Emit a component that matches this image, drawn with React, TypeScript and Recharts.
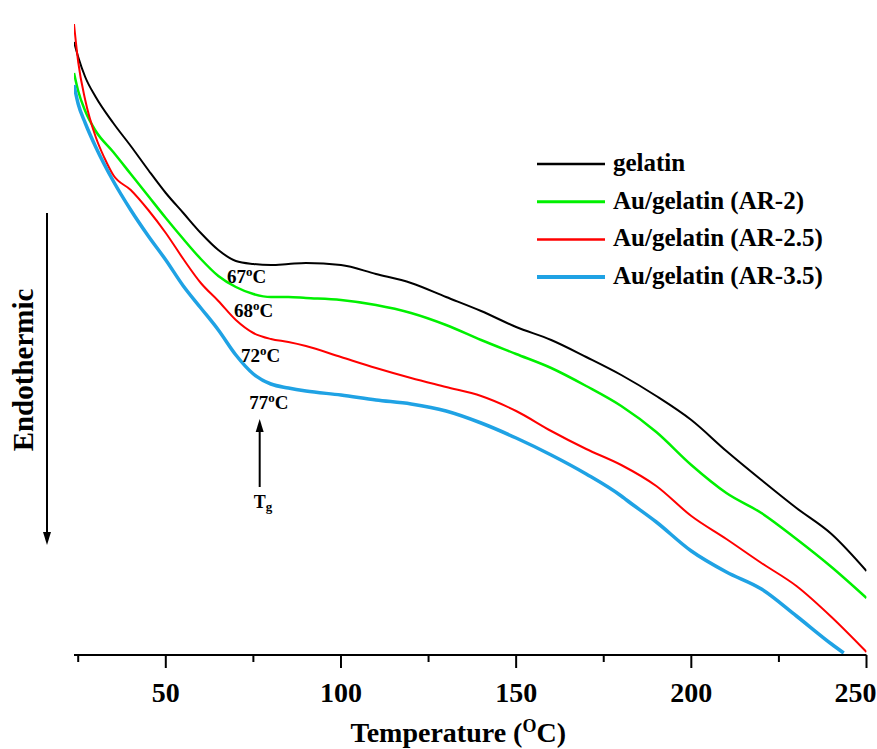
import { Line, LineChart, ReferenceDot, ReferenceLine, XAxis, YAxis } from "recharts";

const FONT = '"Liberation Serif", "Times New Roman", serif';

// temperature (°C) and heat flow (arbitrary units, endothermic down)
const temps = [
  23.8, 25, 27, 30, 35, 40, 45, 50, 55, 60, 65, 70, 75, 80, 85, 90, 100, 110, 120, 130, 140, 150,
  160, 170, 180, 190, 200, 210, 220, 230, 240, 250,
];
const gelatin = [
  613, 598, 578, 558, 532, 509, 485, 462, 442, 422, 405, 394, 391, 390, 391, 392, 390, 381, 372,
  358, 344, 328, 315, 298, 280, 259, 235, 204, 175, 147, 121, 84,
];
const arTwo = [
  582, 564, 544, 524, 503, 481, 459, 437, 416, 396, 379, 368, 361, 358, 358, 357, 355, 350, 342,
  330, 315, 301, 287, 269, 249, 223, 190, 162, 142, 116, 88, 57,
];
const redTemps = [
  23.8, 25, 27, 30, 32.5, 35, 40, 45, 50, 55, 60, 65, 70, 75, 80, 85, 90, 100, 110, 120, 130, 140,
  150, 160, 170, 180, 190, 200, 210, 220, 230, 240, 250,
];
const arTwoFive = [
  631, 593, 555, 518, 497, 480, 465, 445, 422, 396, 372, 354, 335, 322, 316, 313, 309, 298, 287,
  277, 268, 259, 244, 224, 206, 190, 169, 139, 116, 92, 69, 38, 3,
];
const blueTemps = [
  23.8, 25, 27, 30, 35, 40, 45, 50, 55, 60, 65, 70, 75, 80, 85, 90, 100, 110, 120, 130, 140, 150,
  160, 170, 180, 181.5, 190, 200, 210, 220, 230, 240, 243.5,
];
const arThreeFive = [
  570, 551, 532, 508, 474, 445, 419, 395, 369, 347, 325, 300, 281, 271, 267, 264, 260, 255, 251,
  244, 232, 217, 200, 181, 159, 155, 133, 104, 83, 66, 39, 11, 2,
];

const xTicks = [25, 50, 75, 100, 125, 150, 175, 200, 225, 250];

// Tg onset labels: [temperature position, heat-flow position, text]
const tgLabels: [number, number, string][] = [
  [73.1, 372, "67"],
  [75.1, 338, "68"],
  [77.1, 293, "72"],
  [79.4, 246, "77"],
];
const tgArrow = { t: 76.8, base: 168, tip: 236, label: 147 };

const series = [
  { name: "gelatin", color: "#000000", width: 2, temps, values: gelatin },
  { name: "Au/gelatin (AR-2)", color: "#00f000", width: 2.5, temps, values: arTwo },
  { name: "Au/gelatin (AR-2.5)", color: "#ff0000", width: 2, temps: redTemps, values: arTwoFive },
  { name: "Au/gelatin (AR-3.5)", color: "#1fa2e4", width: 3.5, temps: blueTemps, values: arThreeFive },
];

const W = 869;
const H = 741;

function TempTick(props: any) {
  const { x, y, payload } = props;
  const val = Number(payload.value);
  const major = val % 50 === 0;
  const last = val >= 250;
  return (
    <g>
      <line x1={x} x2={x} y1={y} y2={y + (major ? 13 : 7)} stroke="#000" strokeWidth={2} />
      {major && (
        <text
          x={last ? x + 10 : x}
          y={y + 47}
          textAnchor={last ? "end" : "middle"}
          fontFamily={FONT}
          fontWeight="bold"
          fontSize={28}
          fill="#000"
        >
          {val}
        </text>
      )}
    </g>
  );
}

function AxisTitle(props: any) {
  const vb = props.viewBox;
  return (
    <text
      x={vb.x + vb.width / 2 - 12}
      y={vb.y + 87}
      textAnchor="middle"
      fontFamily={FONT}
      fontWeight="bold"
      fontSize={28}
      fill="#000"
    >
      Temperature (<tspan fontSize={18} dy={-10}>O</tspan>
      <tspan dy={10}>C)</tspan>
    </text>
  );
}

export default function App() {
  return (
    <div style={{ position: "absolute", left: 8, top: 8, width: W, height: H }}>
      <LineChart width={W} height={H} margin={{ top: 3, right: 10.5, bottom: 0, left: 66 }}>
        <XAxis
          dataKey="t"
          type="number"
          domain={[23.8, 250]}
          ticks={xTicks}
          interval={0}
          allowDataOverflow
          height={94}
          tickSize={0}
          tickMargin={0}
          tickLine={false}
          tick={<TempTick />}
          axisLine={{ stroke: "#000", strokeWidth: 2 }}
          label={<AxisTitle />}
        />
        <YAxis
          dataKey="v"
          type="number"
          domain={[0, 644]}
          allowDataOverflow
          width={0}
          tick={false}
          tickLine={false}
          axisLine={{ stroke: "#000", strokeWidth: 2 }}
        />
        {series.map((s) => (
          <Line
            key={s.name}
            name={s.name}
            data={s.temps.map((t, i) => ({ t, v: s.values[i] }))}
            dataKey="v"
            type="monotone"
            stroke={s.color}
            strokeWidth={s.width}
            dot={false}
            activeDot={false}
            isAnimationActive={false}
          />
        ))}
        {tgLabels.map(([t, v, txt]) => (
          <ReferenceDot
            key={txt}
            x={t}
            y={v}
            r={0}
            shape={(p: any) => (
              <text x={p.cx} y={p.cy} textAnchor="middle" fontFamily={FONT} fontWeight="bold" fontSize={19} fill="#000">
                {txt}
                <tspan fontSize={13} dy={-7}>o</tspan>
                <tspan dy={7}>C</tspan>
              </text>
            )}
          />
        ))}
        <ReferenceLine
          segment={[
            { x: tgArrow.t, y: tgArrow.base },
            { x: tgArrow.t, y: tgArrow.tip - 10 },
          ]}
          stroke="#000"
          strokeWidth={2}
        />
        <ReferenceDot
          x={tgArrow.t}
          y={tgArrow.tip}
          r={0}
          shape={(p: any) => (
            <path d={`M${p.cx},${p.cy} L${p.cx - 4},${p.cy + 13} L${p.cx + 4},${p.cy + 13} Z`} fill="#000" />
          )}
        />
        <ReferenceDot
          x={tgArrow.t}
          y={tgArrow.label}
          r={0}
          shape={(p: any) => (
            <text x={p.cx - 6} y={p.cy} fontFamily={FONT} fontWeight="bold" fontSize={18} fill="#000">
              T<tspan fontSize={13} dy={3}>g</tspan>
            </text>
          )}
        />
      </LineChart>
      <svg
        width={W}
        height={H}
        style={{ position: "absolute", left: 0, top: 0, pointerEvents: "none" }}
      >
        <line x1={39} x2={39} y1={205} y2={527} stroke="#000" strokeWidth={2} />
        <path d="M39,537 L35,524 L43,524 Z" fill="#000" />
        <text
          x={25}
          y={362}
          transform="rotate(-90 25 362)"
          textAnchor="middle"
          fontFamily={FONT}
          fontWeight="bold"
          fontSize={29}
          fill="#000"
        >
          Endothermic
        </text>
        {series.map((s, i) => {
          const y = 156 + i * 37.7;
          return (
            <g key={s.name}>
              <line x1={529} x2={597} y1={y} y2={y} stroke={s.color} strokeWidth={s.width + 0.5} />
              <text x={605} y={y + 7} fontFamily={FONT} fontWeight="bold" fontSize={25} fill="#000">
                {s.name}
              </text>
            </g>
          );
        })}
      </svg>
    </div>
  );
}
